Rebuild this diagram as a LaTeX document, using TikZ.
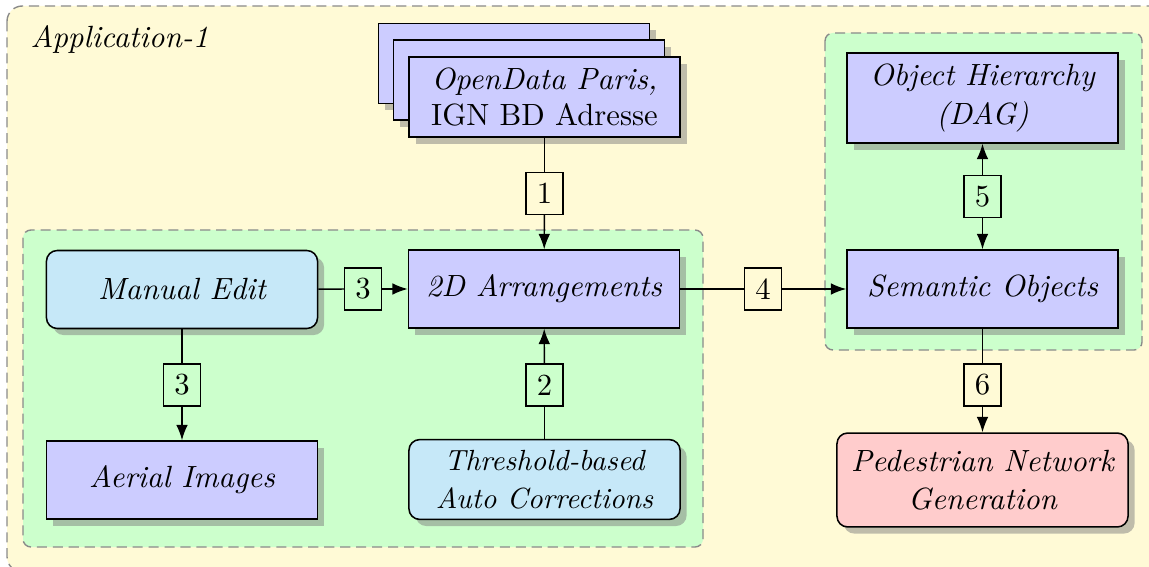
\documentclass[tikz,border=0pt]{standalone}
\usetikzlibrary{shadows,arrows.meta}
\definecolor{bgyellow}{HTML}{FFFAD6}
\definecolor{grpgreen}{HTML}{CCFFCC}
\definecolor{boxblue}{HTML}{CCCCFF}
\definecolor{boxcyan}{HTML}{C6E8F8}
\definecolor{boxpink}{HTML}{FFCCCC}
\definecolor{dashgray}{HTML}{8A8A8A}
\begin{document}
\begin{tikzpicture}[x=0.3257pt,y=-0.3257pt,
  font=\itshape,
  grp/.style={draw=dashgray, dash pattern=on 3.3pt off 1.9pt, line width=0.45pt, rounded corners=2.6pt},
  boxbase/.style={draw=black, line width=0.5pt, drop shadow, align=center, text=black,
     minimum width=88.3pt, minimum height=25.4pt, inner sep=2pt},
  sqbox/.style={boxbase, fill=boxblue},
  rndbox/.style={boxbase, rounded corners=3.5pt, fill=boxcyan},
  lbl/.style={draw=black, line width=0.45pt, font=\upshape, inner sep=0pt,
     minimum width=12pt, minimum height=13.6pt},
  lbly/.style={lbl, fill=bgyellow},
  lblg/.style={lbl, fill=grpgreen},
  conn/.style={line width=0.45pt},
  arrw/.style={conn, -{Latex[length=5pt,width=3.8pt]}},
]
\useasboundingbox (0,0) rectangle (1149,567);
\clip (0,0) rectangle (1149,567);

% backgrounds
\draw[grp, fill=bgyellow, rounded corners=5pt] (7,6) rectangle (1175,572);
\draw[grp, fill=grpgreen] (23,230) rectangle (703,547);
\draw[grp, fill=grpgreen] (825,33) rectangle (1142,350);

\node[anchor=base west, inner sep=0pt] (app) at (30,48) {Application-1};

% stacked data sources
\node[sqbox, minimum height=26pt] (src3) at (514,63.5) {};
\node[sqbox, minimum height=26pt] (src2) at (529,80) {};
\node[sqbox, minimum height=26pt] (src) at (544.5,97) {OpenData Paris,\\\upshape IGN BD Adresse};

% left group
\node[rndbox] (me) at (182,289.5) {Manual Edit};
\node[sqbox] (arr) at (544,289) {2D Arrangements};
\node[sqbox] (aer) at (182,480) {Aerial Images};
\node[rndbox, minimum height=26pt, font=\fontsize{9.5}{12.4}\selectfont\itshape] (thr) at (544.5,479.5) {Threshold-based\\Auto Corrections};

% right group
\node[sqbox, minimum height=29.3pt, font=\fontsize{10}{13}\selectfont\itshape] (obj) at (982.5,98) {Object Hierarchy\\(DAG)};
\node[sqbox] (sem) at (982.5,289) {Semantic Objects};

\node[rndbox, fill=boxpink, minimum width=94.8pt, minimum height=30.6pt, font=\fontsize{10}{12.4}\selectfont\itshape] (ped) at (982.5,480) {Pedestrian Network\\Generation};

% labels
\node[lbly] (l1) at (544.5,193.5) {1};
\node[lblg] (l3h) at (363,289) {3};
\node[lblg] (l3v) at (182,385) {3};
\node[lblg] (l2) at (544.5,385) {2};
\node[lbly] (l4) at (763,289) {4};
\node[lblg] (l5) at (982.5,196.5) {5};
\node[lbly] (l6) at (982.5,385) {6};

% connectors
\draw[conn] (src) -- (l1);
\draw[arrw] (l1) -- (arr);
\draw[conn] (me) -- (l3h);
\draw[arrw] (l3h) -- (arr);
\draw[conn] (me) -- (l3v);
\draw[arrw] (l3v) -- (aer);
\draw[conn] (thr) -- (l2);
\draw[arrw] (l2) -- (arr);
\draw[conn] (arr) -- (l4);
\draw[arrw] (l4) -- (sem);
\draw[arrw] (l5) -- (obj);
\draw[arrw] (l5) -- (sem);
\draw[conn] (sem) -- (l6);
\draw[arrw] (l6) -- (ped);
\end{tikzpicture}
\end{document}
